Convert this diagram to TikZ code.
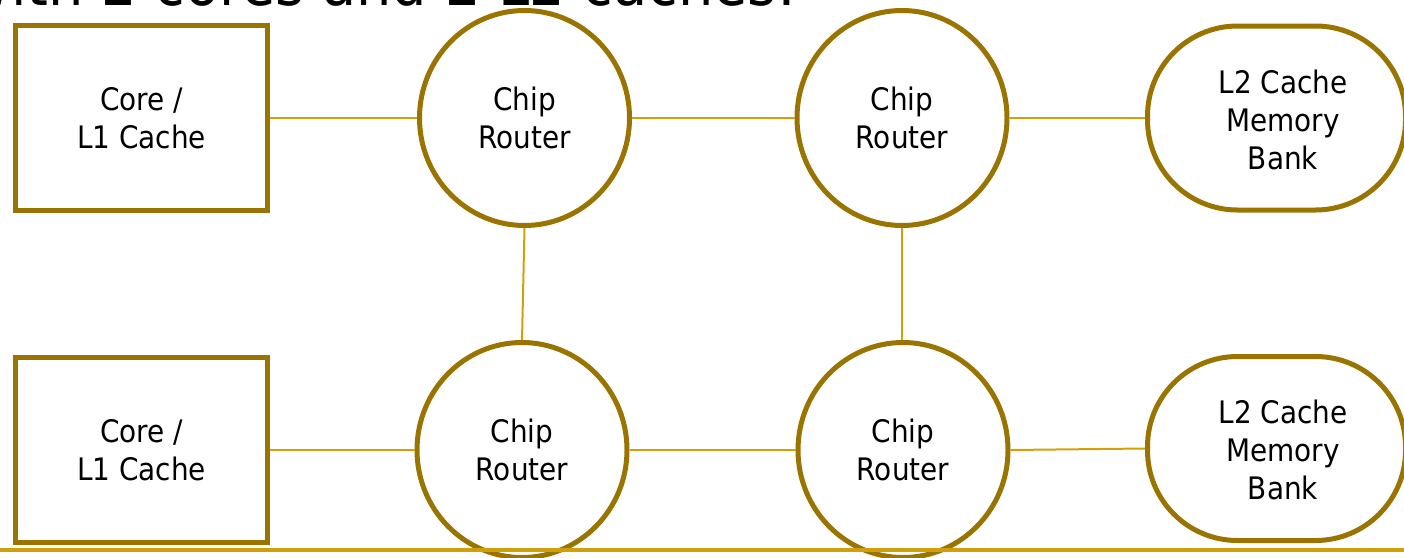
\documentclass[tikz,border=0pt]{standalone}
\usepackage{fontspec}
\setmainfont{DejaVu Sans}[FakeStretch=0.9]
\usetikzlibrary{shapes.geometric}
\definecolor{bordercol}{HTML}{9A7400}
\definecolor{linkcol}{HTML}{D4A00A}
\definecolor{rulecol}{HTML}{CFA00C}
\begin{document}
\begin{tikzpicture}[x=1pt,y=-1pt,
  txt/.style={font=\fontsize{31}{38}\selectfont, align=center, text=black},
  corebox/.style={txt, draw=bordercol, line width=5pt, fill=white, minimum width=252pt, minimum height=185pt, inner sep=0pt},
  router/.style={txt, ellipse, draw=bordercol, line width=5pt, fill=white, minimum width=210pt, minimum height=215pt, inner sep=0pt},
  bank/.style={draw=bordercol, line width=5pt, fill=white, rounded corners=90pt, minimum width=258pt, minimum height=184pt, inner sep=0pt},
  link/.style={draw=linkcol, line width=2pt}]
\useasboundingbox (0,0) rectangle (1404,557);
\clip (0,0) rectangle (1404,557);
\node[anchor=base east, inner sep=0pt, font=\fontsize{62}{70}\selectfont] (title) at (796,5) {with 2 cores and 2 L2 caches:};
% top row
\node[corebox] (c1) at (141.5,118) {Core /\\L1 Cache};
\node[router] (r1) at (524.5,118) {Chip\\Router};
\node[router] (r2) at (902,118) {Chip\\Router};
\node[bank] (b1) at (1276.5,118) {};
\node[txt] (b1t) at (1283,120) {L2 Cache\\Memory\\Bank};
% bottom row
\node[corebox] (c2) at (141.5,450) {Core /\\L1 Cache};
\node[router] (r3) at (522,450) {Chip\\Router};
\node[router] (r4) at (903,450) {Chip\\Router};
\node[bank] (b2) at (1276.5,448.5) {};
\node[txt] (b2t) at (1283,450) {L2 Cache\\Memory\\Bank};
% connectors
\draw[link] (c1.east) -- (r1.west);
\draw[link] (r1.east) -- (r2.west);
\draw[link] (r2.east) -- (b1.west);
\draw[link] (c2.east) -- (r3.west);
\draw[link] (r3.east) -- (r4.west);
\draw[link] (r4.east) -- (b2.west);
\draw[link] (r1.south) -- (r3.north);
\draw[link] (r2.south) -- (r2.south |- r4.north);
% bottom rule
\coordinate (ruleL) at (0,549.7);
\coordinate (ruleR) at (1404,549.7);
\draw[draw=rulecol, line width=4pt] (ruleL) -- (ruleR);
\end{tikzpicture}
\end{document}
